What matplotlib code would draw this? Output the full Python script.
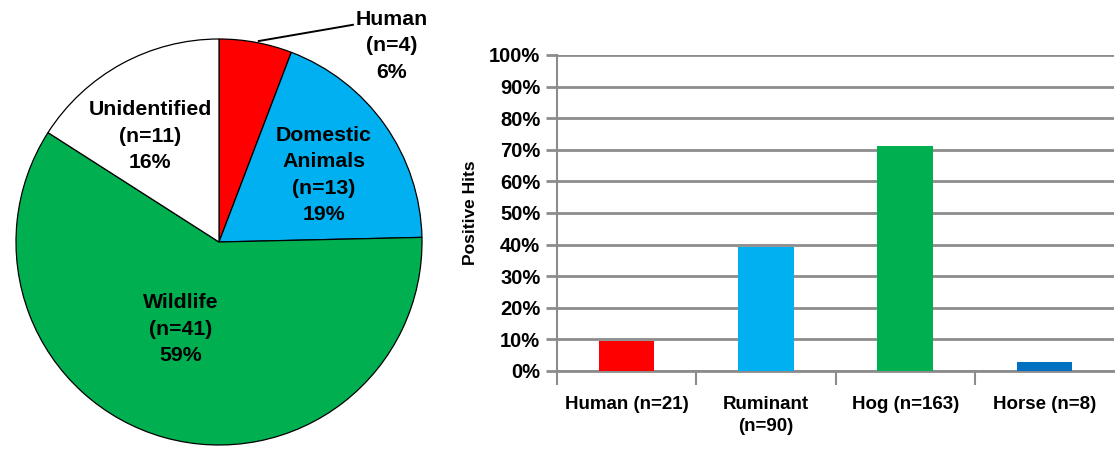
import matplotlib
matplotlib.use("Agg")
import matplotlib.pyplot as plt

# ---- data ----
pie_labels = ["Human", "Domestic\nAnimals", "Wildlife", "Unidentified"]
pie_counts = [4, 13, 41, 11]
pie_colors = ["#FF0000", "#00B0F0", "#00B050", "#FFFFFF"]

bar_categories = ["Human (n=21)", "Ruminant\n(n=90)", "Hog (n=163)", "Horse (n=8)"]
bar_values = [9.5, 39.2, 71.2, 3.0]
bar_colors = ["#FF0000", "#00B0F0", "#00B050", "#0070C0"]
y_ticks = [0, 10, 20, 30, 40, 50, 60, 70, 80, 90, 100]

plt.rcParams['font.family'] = ['Liberation Sans', 'DejaVu Sans']
plt.rcParams['font.weight'] = 'bold'

W, H = 1115, 450
fig = plt.figure(figsize=(W / 100, H / 100), dpi=100)

# ---- pie ----
cx, cy, r = 219, 242, 203
axp = fig.add_axes([(cx - r) / W, (H - cy - r) / H, 2 * r / W, 2 * r / H])
axp.pie(pie_counts, colors=pie_colors, startangle=90, counterclock=False,
        radius=1.0, wedgeprops=dict(edgecolor="black", linewidth=0.9))
axp.set_xlim(-1, 1)
axp.set_ylim(-1, 1)
axp.set_aspect("auto")
axp.axis("off")

total = sum(pie_counts)
def lbl(i):
    pct = round(100 * pie_counts[i] / total)
    return f"{pie_labels[i]}\n(n={pie_counts[i]})\n{pct}%"

fs = 15.3
ls = 1.5
positions = {1: (0.515, 0.33), 2: (-0.19, -0.43), 3: (-0.34, 0.52)}
for i, (x, y) in positions.items():
    axp.text(x, y, lbl(i), ha="center", va="center", fontsize=fs,
             fontweight="bold", linespacing=ls)
# Human label outside with leader line
axp.plot([0.196, 0.66], [0.99, 1.07], color="black", lw=1.4, clip_on=False)
axp.text(0.85, 0.966, lbl(0), ha="center", va="center", fontsize=fs,
         fontweight="bold", linespacing=ls, clip_on=False)

# ---- bars ----
left, right, bottom, top = 557, 1114, 371, 55
axb = fig.add_axes([left / W, (H - bottom) / H, (right - left) / W, (bottom - top) / H])
x = list(range(len(bar_values)))
axb.bar(x, bar_values, width=0.4, color=bar_colors, zorder=3)
axb.set_xlim(-0.5, len(bar_values) - 0.5)
axb.set_ylim(0, 100)
axb.set_yticks(y_ticks)
axb.set_yticklabels([f"{v}%" for v in y_ticks], fontsize=14.5, fontweight="bold")
axb.yaxis.grid(True, color="#8C8C8C", linewidth=2, zorder=0)
axb.set_axisbelow(True)
axb.set_xticks(x)
axb.set_xticklabels(bar_categories, fontsize=13.5, fontweight="bold", linespacing=1.4)
axb.set_xticks([i - 0.5 for i in range(len(bar_values))], minor=True)
axb.tick_params(axis="x", which="major", length=0, pad=18)
axb.tick_params(axis="x", which="minor", length=10, width=1.5, color="#8C8C8C")
axb.tick_params(axis="y", length=8, width=2, color="#8C8C8C", pad=4)
for s in ["top", "right"]:
    axb.spines[s].set_visible(False)
axb.spines["left"].set_color("#8C8C8C")
axb.spines["left"].set_linewidth(1.5)
axb.spines["bottom"].set_color("#8C8C8C")
axb.spines["bottom"].set_linewidth(2)
axb.set_ylabel("Positive Hits", fontsize=12.5, fontweight="bold", labelpad=8)

fig.savefig("out.png", dpi=100)
